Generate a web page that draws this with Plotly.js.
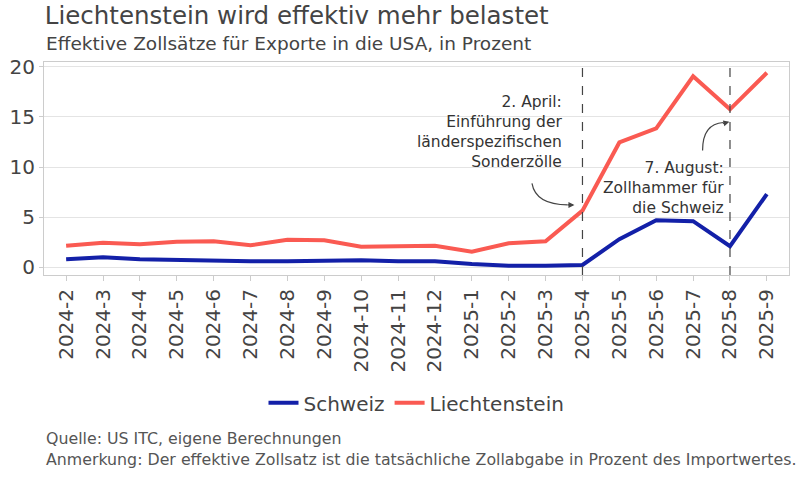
<!DOCTYPE html>
<html>
<head>
<meta charset="utf-8">
<script src="https://cdn.plot.ly/plotly-3.0.1.min.js"></script>
<style>
  html, body { margin: 0; padding: 0; background: #fff; }
  #chart { width: 800px; height: 480px; }
</style>
</head>
<body>
<div id="chart"></div>
<script>
var months = ['2024-2','2024-3','2024-4','2024-5','2024-6','2024-7','2024-8','2024-9','2024-10','2024-11','2024-12',
              '2025-1','2025-2','2025-3','2025-4','2025-5','2025-6','2025-7','2025-8','2025-9'];
var schweiz = [0.8, 1.0, 0.8, 0.7, 0.7, 0.6, 0.6, 0.7, 0.7, 0.6, 0.6,
               0.33, 0.15, 0.15, 0.23, 2.8, 4.7, 4.6, 2.1, 7.3];
var liechtenstein = [2.15, 2.45, 2.3, 2.55, 2.6, 2.2, 2.75, 2.7, 2.05, 2.05, 2.15,
                     1.55, 2.4, 2.6, 5.65, 12.45, 13.85, 19.05, 15.75, 19.4];
var markers = ['2025-4', '2025-8'];

var font = '"DejaVu Sans", sans-serif';
var ink = '#444';

var data = [
  {x: months, y: schweiz, name: 'Schweiz', type: 'scatter', mode: 'lines',
   line: {color: '#1320a8', width: 4}},
  {x: months, y: liechtenstein, name: 'Liechtenstein', type: 'scatter', mode: 'lines',
   line: {color: '#fa5a52', width: 4}}
];

var shapes = markers.map(function (m) {
  return {type: 'line', xref: 'x', x0: m, x1: m, yref: 'paper', y0: 0, y1: 1,
          line: {color: '#444', width: 1.2, dash: 'dash'}};
});
// curved arrow shafts
shapes.push({type: 'path', xref: 'paper', yref: 'paper',
  path: 'M 0.655,0.43 Q 0.66,0.33 0.703,0.329', line: {color: '#444', width: 1.2}});
shapes.push({type: 'path', xref: 'paper', yref: 'paper',
  path: 'M 0.884,0.585 Q 0.884,0.71 0.912,0.716', line: {color: '#444', width: 1.2}});

var annotations = [
  {xref: 'paper', yref: 'paper', x: 0.698, y: 0.672, xanchor: 'right', yanchor: 'middle',
   text: '2. April:<br>Einführung der<br>länderspezifischen<br>Sonderzölle', showarrow: false,
   align: 'right', font: {family: font, size: 15.5, color: '#333'}},
   {xref: 'paper', yref: 'paper', x: 0.915, y: 0.41, xanchor: 'right', yanchor: 'middle',
   text: '7. August:<br>Zollhammer für<br>die Schweiz', showarrow: false,
   align: 'right', font: {family: font, size: 15.5, color: '#333'}},
  {xref: 'paper', yref: 'paper', x: 0.712, y: 0.329, ax: -8, ay: 0, text: '', showarrow: true,
   arrowhead: 2, arrowsize: 1, arrowwidth: 1.2, arrowcolor: '#444'},
  {xref: 'paper', yref: 'paper', x: 0.92, y: 0.719, ax: -8, ay: 2, text: '', showarrow: true,
   arrowhead: 2, arrowsize: 1, arrowwidth: 1.2, arrowcolor: '#444'},
  {xref: 'paper', yref: 'paper', x: 0, y: 1.085, xanchor: 'left', yanchor: 'middle',
   text: 'Effektive Zollsätze für Exporte in die USA, in Prozent', showarrow: false,
   font: {family: font, size: 18.5, color: ink}},
  {xref: 'paper', yref: 'paper', x: 0, y: -0.815, xanchor: 'left', yanchor: 'middle',
   text: 'Quelle: US ITC, eigene Berechnungen<br>Anmerkung: Der effektive Zollsatz ist die tatsächliche Zollabgabe in Prozent des Importwertes.',
   showarrow: false, align: 'left', font: {family: font, size: 15.8, color: '#555'}}
];

var layout = {
  width: 800, height: 480,
  margin: {l: 44, r: 11, t: 62, b: 205},
  paper_bgcolor: '#fff', plot_bgcolor: '#fff',
  font: {family: font, color: ink},
  title: {text: 'Liechtenstein wird effektiv mehr belastet', x: 0.056, xanchor: 'left',
          y: 0.985, yanchor: 'top', font: {family: font, size: 24.5, color: ink}},
  xaxis: {type: 'category', range: [-0.6, 19.6], tickangle: -90,
          tickfont: {size: 20, color: ink}, ticks: 'outside', ticklen: 5, tickcolor: '#ccc',
          showgrid: false, showline: true, linecolor: '#ccc', mirror: true, zeroline: false},
  yaxis: {range: [-0.77, 20.47], tickvals: [0, 5, 10, 15, 20], tickfont: {size: 20, color: ink},
          ticks: 'outside', ticklen: 4, tickcolor: '#ccc',
          showgrid: true, gridcolor: '#e4e4e4', showline: true, linecolor: '#ccc', mirror: true,
          zeroline: false},
  legend: {orientation: 'h', x: 0.5, xanchor: 'center', y: -0.6, yanchor: 'middle',
           font: {size: 20, color: ink}},
  shapes: shapes,
  annotations: annotations,
  showlegend: true
};

Plotly.newPlot('chart', data, layout, {displayModeBar: false, staticPlot: true});
</script>
</body>
</html>
